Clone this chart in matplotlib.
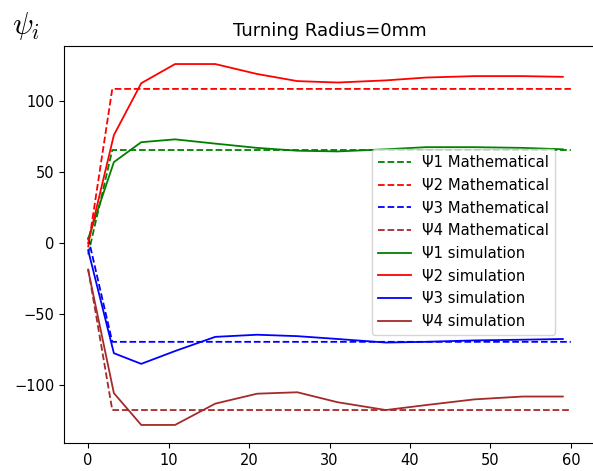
import numpy as np
import matplotlib.pyplot as plt

# Mathematical (ideal) joint angles
x_math = [0, 3, 60]
psi1_math = [-8, 65.5, 65.5]
psi2_math = [-3, 108.5, 108.5]
psi3_math = [4, -69.5, -69.5]
psi4_math = [-18, -117.5, -117.5]

# Simulation results
x_sim = [0, 3.2, 6.6, 10.8, 15.8, 21, 26, 31, 37, 42, 48, 54, 59]
psi1_sim = [3, 57, 71, 73, 70, 67, 65, 64.5, 66, 67.5, 67.5, 67, 66]
psi2_sim = [0, 76, 112.5, 126, 126, 119, 114, 113, 114.5, 116.5, 117.5, 117.5, 117]
psi3_sim = [-5, -77.5, -85, -76, -66, -64.5, -65.5, -67.5, -70, -69.5, -68.5, -68, -67.5]
psi4_sim = [-19, -105.6, -128, -128, -113, -106, -105, -112, -117.5, -114, -110, -108, -108]

plt.rcParams['font.size'] = 10.5
plt.rcParams['mathtext.fontset'] = 'cm'

fig = plt.figure(figsize=(5.93, 4.71), dpi=100)
ax = fig.add_axes([64/593, 28/471, 531/593, 397/471])

lw = 1.3
ax.plot(x_math, psi1_math, 'g--', lw=lw, label='Ψ1 Mathematical')
ax.plot(x_math, psi2_math, 'r--', lw=lw, label='Ψ2 Mathematical')
ax.plot(x_math, psi3_math, 'b--', lw=lw, label='Ψ3 Mathematical')
ax.plot(x_math, psi4_math, '--', color='brown', lw=lw, label='Ψ4 Mathematical')
ax.plot(x_sim, psi1_sim, 'g-', lw=lw, label='Ψ1 simulation')
ax.plot(x_sim, psi2_sim, 'r-', lw=lw, label='Ψ2 simulation')
ax.plot(x_sim, psi3_sim, 'b-', lw=lw, label='Ψ3 simulation')
ax.plot(x_sim, psi4_sim, '-', color='brown', lw=lw, label='Ψ4 simulation')

ax.set_xticks([0, 10, 20, 30, 40, 50, 60])
ax.set_yticks([-100, -50, 0, 50, 100])
ax.set_title('Turning Radius=0mm', fontsize=13, pad=7)
ax.legend(loc='lower left', bbox_to_anchor=(0.567, 0.254), fontsize=10.6,
          labelspacing=0.52, handlelength=2.2)

fig.text(12/593, 1 - 26/471, r'$\psi_i$', fontsize=22, va='center')

fig.savefig('out.png')
